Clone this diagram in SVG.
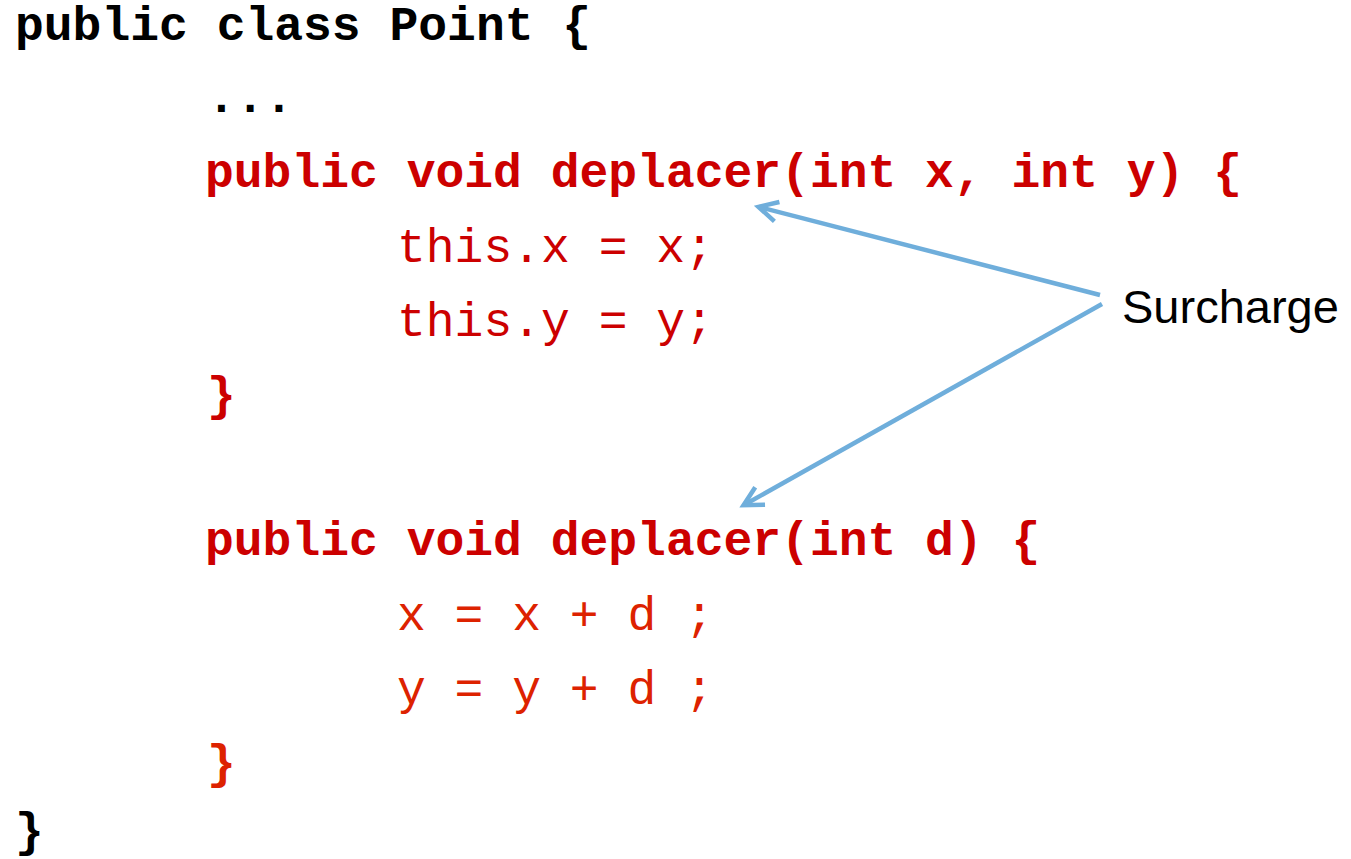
<svg xmlns="http://www.w3.org/2000/svg" width="1351" height="859" viewBox="0 0 1351 859">
<style>
.code{font-family:"Liberation Mono","Courier New",monospace;font-size:48px}
.b{font-weight:bold}
.blk{fill:#000}
.red{fill:#CC0000}
.org{fill:#DD2200}
.lbl{font-family:"Liberation Sans",Arial,sans-serif;font-size:47px;fill:#000}
.arr{stroke:#6FAEDB;stroke-width:4.5;fill:none}
</style>
<defs>
<marker id="ah" markerWidth="10" markerHeight="10" refX="8.5" refY="5" orient="auto" markerUnits="userSpaceOnUse" viewBox="0 0 10 10" overflow="visible">
<path d="M-10,-5 L9,5 L-10,15" stroke="#6FAEDB" stroke-width="4.5" fill="none" stroke-linejoin="miter"/>
</marker>
</defs>
<rect width="1351" height="859" fill="#fff"/>
<g id="class-decl"><text class="code b blk" x="15" y="40">public class Point {</text></g>
<g id="ellipsis"><text class="code b blk" x="207" y="112">...</text></g>
<g id="method1">
<text class="code b red" x="205" y="187">public void deplacer(int x, int y) {</text>
<text class="code red" x="397" y="262">this.x = x;</text>
<text class="code red" x="397" y="336">this.y = y;</text>
<text class="code b red" x="207" y="410">}</text>
</g>
<g id="method2">
<text class="code b red" x="205" y="555">public void deplacer(int d) {</text>
<text class="code org" x="397" y="630">x = x + d ;</text>
<text class="code org" x="397" y="704">y = y + d ;</text>
<text class="code b org" x="207" y="778">}</text>
</g>
<g id="class-end"><text class="code b blk" x="15" y="846">}</text></g>
<g id="label"><text class="lbl" x="1122" y="323">Surcharge</text></g>
<g id="connectors">
<line class="arr" x1="1100" y1="295" x2="759" y2="207" marker-end="url(#ah)"/>
<line class="arr" x1="1102" y1="304" x2="744" y2="505" marker-end="url(#ah)"/>
</g>
</svg>
